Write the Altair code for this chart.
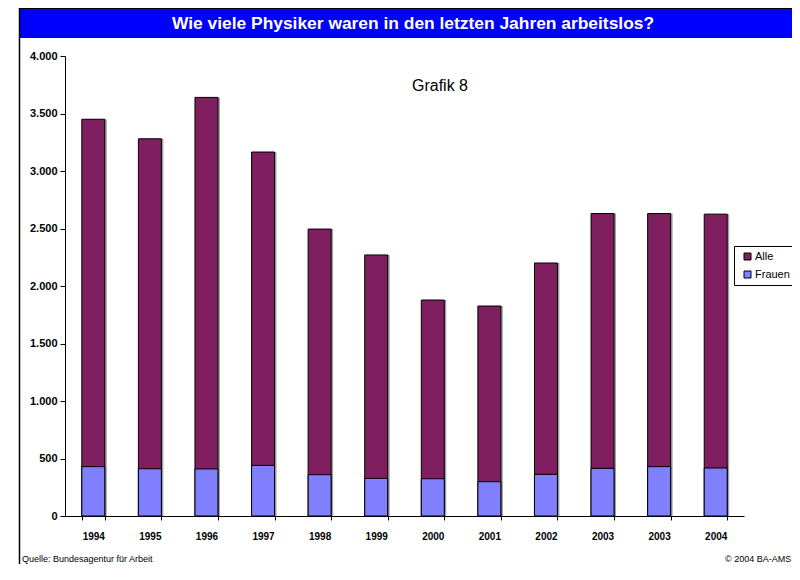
import json
import altair as alt
import pandas as pd

# ---- data ----
years = ["1994", "1995", "1996", "1997", "1998", "1999", "2000", "2001", "2002", "2003", "2003", "2004"]
alle = [3450, 3280, 3640, 3165, 2495, 2270, 1878, 1826, 2200, 2630, 2630, 2625]
frauen = [429, 411, 409, 440, 359, 327, 324, 298, 362, 414, 429, 417]
series_names = ["Alle", "Frauen"]
series_colors = ["#7f1f5f", "#8080ff"]
y_ticks = [0, 500, 1000, 1500, 2000, 2500, 3000, 3500, 4000]

title_text = "Wie viele Physiker waren in den letzten Jahren arbeitslos?"
subtitle_text = "Grafik 8"
source_text = "Quelle: Bundesagentur für Arbeit"
copyright_text = "© 2004  BA-AMS"

rows = []
for i, v in enumerate(alle):
    rows.append({"idx": i, "series": "Alle", "value": v, "ord": 0})
for i, v in enumerate(frauen):
    rows.append({"idx": i, "series": "Frauen", "value": v, "ord": 1})
df = pd.DataFrame(rows)

FONT = "Liberation Sans, Arial, sans-serif"

x_enc = alt.X(
    "idx:O",
    scale=alt.Scale(paddingInner=0.594, paddingOuter=0.297),
    axis=alt.Axis(
        title=None,
        labelExpr=json.dumps(years) + "[datum.value]",
        labelAngle=0,
        tickBand="extent",
        labelFont=FONT,
        labelFontSize=10,
        labelFontWeight="bold",
        labelColor="black",
        labelPadding=11,
        tickSize=4,
        tickColor="black",
        domainColor="black",
    ),
)
y_enc = alt.Y(
    "value:Q",
    stack=None,
    scale=alt.Scale(domain=[0, 4000]),
    axis=alt.Axis(
        title=None,
        values=y_ticks,
        grid=False,
        labelExpr="replace(format(datum.value, ',d'), ',', '.')",
        labelFont=FONT,
        labelFontSize=11,
        labelFontWeight="bold",
        labelColor="black",
        labelPadding=3,
        tickSize=5,
        tickColor="black",
        domainColor="black",
    ),
)

shadow = (
    alt.Chart(df)
    .transform_filter(alt.datum.series == "Alle")
    .mark_bar(color="#a0a0a0", xOffset=2)
    .encode(x=x_enc, y=y_enc)
)

bars = (
    alt.Chart(df)
    .mark_bar(stroke="black", strokeWidth=1)
    .encode(
        x=x_enc,
        y=y_enc,
        color=alt.Color(
            "series:N",
            scale=alt.Scale(domain=series_names, range=series_colors),
            legend=alt.Legend(
                title=None,
                orient="none",
                legendX=669,
                legendY=190,
                strokeColor="black",
                fillColor="white",
                padding=5,
                symbolOffset=3,
                symbolType="square",
                symbolSize=49,
                symbolStrokeColor="black",
                symbolStrokeWidth=1,
                labelFont=FONT,
                labelFontSize=11,
                labelColor="black",
                labelOffset=2,
                rowPadding=6,
            ),
        ),
        order=alt.Order("ord:Q"),
    )
)

one = alt.Data(values=[{}])

banner = alt.Chart(one).mark_rect(color="#0000ff").encode(
    x=alt.value(-45), x2=alt.value(735), y=alt.value(-47), y2=alt.value(-18)
)
top_line = alt.Chart(one).mark_rule(color="black", strokeWidth=2).encode(
    x=alt.value(-46), x2=alt.value(735), y=alt.value(-48)
)
left_line = alt.Chart(one).mark_rule(color="black", strokeWidth=1.5).encode(
    x=alt.value(-45.5), y=alt.value(-48), y2=alt.value(510)
)
title = alt.Chart(one).mark_text(
    text=title_text, font=FONT, fontSize=17.4, fontWeight="bold", color="white",
    align="center", baseline="middle"
).encode(x=alt.value(348), y=alt.value(-32))
subtitle = alt.Chart(one).mark_text(
    text=subtitle_text, font=FONT, fontSize=16, color="black",
    align="center", baseline="middle"
).encode(x=alt.value(375), y=alt.value(30))
source = alt.Chart(one).mark_text(
    text=source_text, font=FONT, fontSize=9, color="black",
    align="left", baseline="middle"
).encode(x=alt.value(-43), y=alt.value(503))
copyright_ = alt.Chart(one).mark_text(
    text=copyright_text, font=FONT, fontSize=9, color="black",
    align="left", baseline="middle"
).encode(x=alt.value(660), y=alt.value(503))

chart = (
    alt.layer(banner, top_line, left_line, title, subtitle, shadow, bars, source, copyright_)
    .properties(
        width=679,
        height=460,
        autosize=alt.AutoSizeParams(type="none"),
        padding={"left": 57, "top": 48, "right": 48, "bottom": 48},
        background="white",
    )
    .configure_view(stroke=None)
)

chart.save("out.html", embed_options={"renderer": "svg", "actions": False})
